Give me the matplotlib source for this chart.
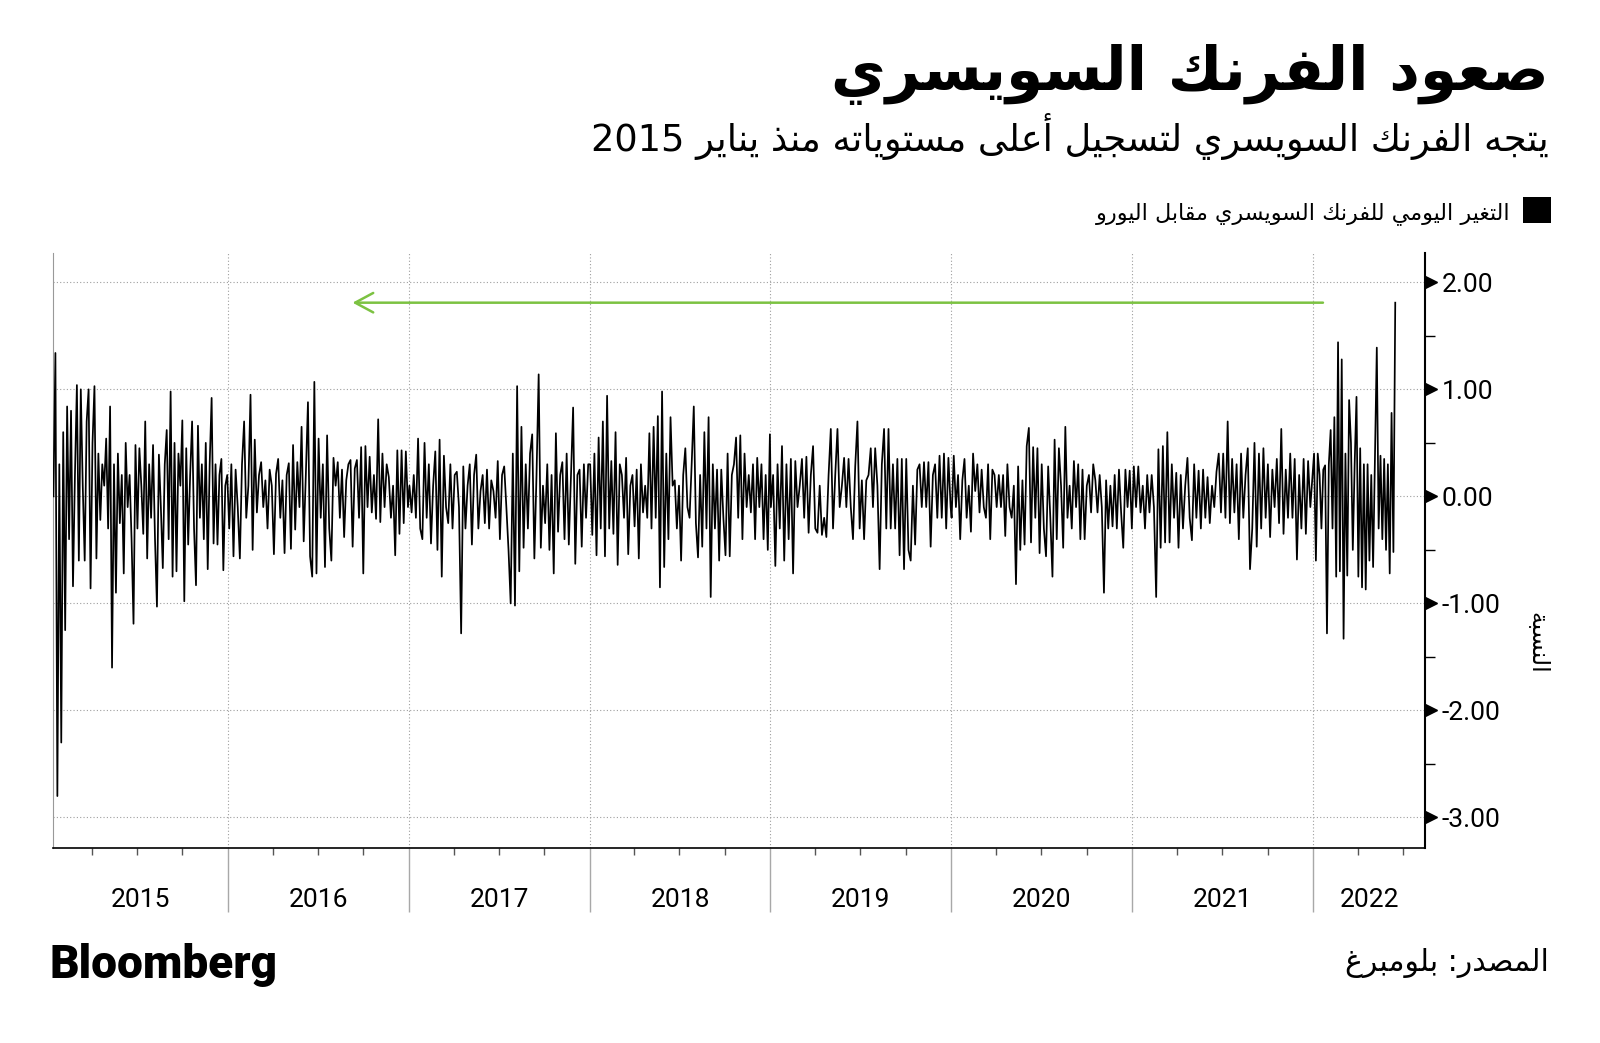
import re
import numpy as np
import pandas as pd
import matplotlib
matplotlib.use('Agg')
import matplotlib.pyplot as plt
import matplotlib.dates as mdates
import matplotlib.transforms as mtransforms
from matplotlib.ticker import MultipleLocator, FuncFormatter
from matplotlib.patches import Rectangle

# daily change of the Swiss franc vs euro (%), thinned out
chf_2015 = [0.0, 1.34, -2.80, 0.30, -2.30, 0.60, -1.25, 0.84, -0.40, 0.80,
            -0.84, 0.20, 1.04, -0.60, 1.00, 0.10, -0.60, 0.70,
            1.00, -0.86, 0.50, 1.03, -0.58, 0.40, -0.22, 0.30,
            0.10, 0.54, -0.30, 0.84, -1.60, 0.30, -0.90, 0.40,
            -0.25, 0.20, -0.72, 0.50, -0.10, 0.20,
            -0.40, -1.19, 0.48, -0.30, 0.45, 0.10, -0.35,
            0.70, -0.58, 0.30, -0.20, 0.48, -0.40,
            -1.03, 0.39, -0.10, -0.67, 0.30, 0.62,
            -0.40, 0.98, -0.75, 0.50, -0.70, 0.40,
            0.10, 0.71, -0.98, 0.45, -0.45, 0.20,
            0.70, -0.30, -0.83, 0.66, -0.20, 0.30,
            -0.40, 0.50, -0.68, 0.30, 0.92, -0.44,
            0.30, -0.45, 0.20, 0.35, -0.69, 0.10, 0.20]
chf_2016 = [-0.30, 0.30, -0.56, 0.25, -0.10, -0.58, 0.30, 0.70, -0.20, 0.10,
            0.95, -0.50, 0.53, -0.15, 0.20, 0.32, -0.10, 0.15, -0.30, 0.25,
            0.10, -0.54, 0.21, 0.35, -0.20, 0.15,
            -0.53, 0.20, 0.31, -0.49, 0.48, -0.31,
            0.32, -0.10, 0.65, -0.42, 0.20, 0.88,
            -0.56, -0.75, 1.07, -0.72, 0.54, -0.20, 0.30,
            -0.66, 0.57, -0.30, -0.60, 0.36, 0.10,
            0.32, -0.20, 0.25, -0.38, 0.15, 0.30,
            0.34, -0.47, 0.26, 0.34, -0.20, 0.46,
            -0.72, 0.47, -0.10, 0.37, -0.15, 0.20,
            -0.21, 0.72, -0.24, 0.40, -0.10, 0.30,
            0.18, -0.20, 0.10, -0.55, 0.43, -0.35, 0.43, -0.25, 0.42, -0.10]
chf_2017 = [0.10, -0.15, 0.20, -0.20, 0.54, -0.30,
            -0.40, 0.50, -0.20, 0.30, -0.44, 0.10,
            0.42, -0.50, 0.53, -0.75, 0.38, -0.10,
            -0.25, 0.30, -0.30, 0.20, 0.23, -0.10,
            -1.28, 0.28, -0.30, 0.10,
            0.30, -0.45, 0.20, 0.39, -0.30, 0.05,
            0.20, -0.25, 0.25, -0.30, 0.15, 0.05,
            -0.20, 0.33, -0.40, 0.20, 0.28, -0.10,
            -0.50, -1.00, 0.40, -1.02, 1.03, -0.70,
            0.65, -0.48, 0.30, -0.30, 0.40,
            0.58, -0.58, 0.20, 1.14, -0.48, 0.10,
            -0.25, 0.30, -0.50, 0.20, -0.72, 0.59,
            -0.33, 0.20, 0.32, -0.40, 0.40, -0.45,
            0.20, 0.83, -0.63, 0.20, 0.25, -0.47, 0.30, -0.20, 0.30]
chf_2018 = [0.30, -0.36, 0.40, -0.55, 0.55, -0.30,
            0.70, -0.56, 0.94, -0.30, 0.33, -0.35,
            0.60, -0.64, 0.30, 0.20, -0.20, 0.36, -0.54,
            0.10, 0.20, -0.28, 0.25, -0.58, 0.30, -0.15, 0.10, -0.20,
            0.59, -0.30, 0.65, -0.20, 0.75, -0.85, 0.98,
            -0.66, 0.40, -0.40, 0.74, 0.10, 0.15,
            -0.30, 0.10, -0.60, 0.20, 0.45, -0.10,
            -0.20, 0.30, 0.84, -0.25, -0.57, 0.20,
            -0.47, 0.60, -0.30, 0.74, -0.94, 0.30,
            -0.30, 0.25, -0.60, 0.25, -0.20, -0.55,
            0.40, -0.56, 0.20, 0.30, 0.55, -0.20, 0.57, -0.40, 0.40, -0.10, 0.20, -0.15,
            0.30, -0.40, 0.36, -0.10, 0.30, -0.40, 0.20, -0.50, 0.58]
chf_2019 = [-0.10, 0.20, -0.65, 0.30, -0.30, 0.47, -0.60, 0.30,
            -0.40, 0.35, -0.72, 0.33, -0.10, 0.10,
            0.35, -0.20, 0.37, -0.34, 0.20, 0.47,
            -0.30, -0.34, 0.10, -0.36, -0.20, -0.38, 0.20,
            0.63, -0.30, 0.20, 0.63, -0.10, 0.10,
            0.36, -0.10, 0.35, -0.10, -0.40, 0.28,
            0.70, -0.30, 0.15, -0.40, 0.15, 0.20,
            0.45, -0.10, 0.45, 0.10, -0.68, 0.30, 0.63,
            -0.30, 0.63, -0.30, 0.30, -0.30, 0.35,
            -0.55, 0.35, -0.68, 0.35, -0.50, -0.60,
            0.10, -0.45, 0.25, 0.30, -0.10, 0.32, -0.10, 0.32, -0.47,
            0.20, 0.30, -0.20, 0.38, -0.20,
            0.40, -0.30, 0.36, -0.10]
chf_2020 = [-0.20, 0.38, -0.10, 0.20, -0.40, 0.15, 0.35, -0.20,
            0.10, -0.33, 0.40, 0.05, 0.30, -0.15, 0.25, -0.10,
            -0.20, 0.30, -0.40, 0.25, 0.20, -0.10,
            0.20, -0.10, 0.20, -0.37, 0.30, -0.10,
            -0.20, 0.10, -0.82, 0.28, -0.50, 0.15,
            -0.45, 0.47, 0.64, -0.43, 0.46, -0.20, 0.45,
            -0.53, 0.30, -0.30, -0.56, 0.28, -0.20, -0.75, 0.53,
            -0.40, 0.45, 0.10, -0.48, 0.65, -0.20,
            0.10, -0.30, 0.33, -0.10, 0.30, -0.40,
            0.25, -0.40, 0.10, 0.20, -0.15, 0.30,
            0.15, -0.15, 0.20, -0.10, -0.90, 0.15,
            -0.30, 0.10, -0.28, 0.20, -0.30, 0.25,
            -0.15, -0.48, 0.25, -0.10, 0.24, -0.30]
chf_2021 = [0.28, -0.10, 0.28, -0.15, 0.10, -0.30,
            0.20, -0.15, 0.20, -0.10, -0.94, 0.44,
            -0.48, 0.47, -0.43, 0.60, -0.43, 0.30,
            -0.20, 0.22, -0.48, 0.20, -0.30, 0.10,
            0.36, -0.20, -0.41, 0.30, -0.20, 0.24,
            -0.30, 0.25, -0.20, 0.18, -0.25, 0.10, -0.10, 0.23, 0.40, -0.15,
            0.40, -0.20, 0.70, -0.25, 0.35, -0.15, 0.30,
            -0.40, 0.40, -0.20, 0.20, 0.45, -0.68,
            -0.30, 0.50, -0.47, 0.40, -0.30,
            0.45, -0.20, 0.30, -0.38, 0.25, -0.10,
            0.35, -0.25, 0.63, -0.35, 0.25, -0.20,
            0.40, -0.20, 0.35, -0.59, 0.20, -0.30,
            0.35, -0.35, 0.33, -0.10, 0.20]
chf_2022 = [0.40, -0.60, 0.40, 0.20, -0.30, 0.25,
            0.29, -1.28, 0.30, 0.62, -0.30,
            0.74, -0.75, 1.44, -0.70, 1.28, -1.33,
            0.40, -0.74, 0.90, 0.50, -0.50, 0.30,
            0.93, -0.75, 0.45, -0.85, 0.30, -0.87,
            0.30, -0.60, 0.20, -0.66, 0.35, 1.39,
            -0.30, 0.38, -0.40, 0.35, -0.50, 0.30, -0.72, 0.78, -0.52, 1.81]

year_vals = [chf_2015, chf_2016, chf_2017, chf_2018, chf_2019, chf_2020, chf_2021, chf_2022]
year_spans = [('2015-01-14', '2015-12-31'), ('2016-01-04', '2016-12-30'),
              ('2017-01-02', '2017-12-29'), ('2018-01-02', '2018-12-31'),
              ('2019-01-02', '2019-12-31'), ('2020-01-02', '2020-12-31'),
              ('2021-01-04', '2021-12-31'), ('2022-01-03', '2022-06-16')]
years = list(range(2015, 2023))
x_start, x_end = '2015-01-13', '2022-08-15'
arrow_from, arrow_to = '2022-01-21', '2016-09-09'

title = 'صعود الفرنك السويسري'
subtitle = 'يتجه الفرنك السويسري لتسجيل أعلى مستوياته منذ يناير 2015'
legend_txt = 'التغير اليومي للفرنك السويسري مقابل اليورو'
ylabel_txt = 'النسبة'
source_txt = 'المصدر: بلومبرغ'

# --- tiny arabic shaper (matplotlib has no text shaping) ---
AR = {'ء': (0xFE80, 1), 'آ': (0xFE81, 2), 'أ': (0xFE83, 2), 'ؤ': (0xFE85, 2), 'إ': (0xFE87, 2),
      'ئ': (0xFE89, 4), 'ا': (0xFE8D, 2), 'ب': (0xFE8F, 4), 'ة': (0xFE93, 2), 'ت': (0xFE95, 4),
      'ث': (0xFE99, 4), 'ج': (0xFE9D, 4), 'ح': (0xFEA1, 4), 'خ': (0xFEA5, 4), 'د': (0xFEA9, 2),
      'ذ': (0xFEAB, 2), 'ر': (0xFEAD, 2), 'ز': (0xFEAF, 2), 'س': (0xFEB1, 4), 'ش': (0xFEB5, 4),
      'ص': (0xFEB9, 4), 'ض': (0xFEBD, 4), 'ط': (0xFEC1, 4), 'ظ': (0xFEC5, 4), 'ع': (0xFEC9, 4),
      'غ': (0xFECD, 4), 'ف': (0xFED1, 4), 'ق': (0xFED5, 4), 'ك': (0xFED9, 4), 'ل': (0xFEDD, 4),
      'م': (0xFEE1, 4), 'ن': (0xFEE5, 4), 'ه': (0xFEE9, 4), 'و': (0xFEED, 2), 'ى': (0xFEEF, 2),
      'ي': (0xFEF1, 4)}
LAM_ALEF = {'آ': 0xFEF5, 'أ': 0xFEF7, 'إ': 0xFEF9, 'ا': 0xFEFB}


def ar(text):
    toks = []
    i = 0
    while i < len(text):
        if text[i] == 'ل' and i + 1 < len(text) and text[i + 1] in LAM_ALEF:
            toks.append((LAM_ALEF[text[i + 1]], 2))
            i += 2
        else:
            toks.append(AR.get(text[i], (text[i], 0)))
            i += 1
    out = []
    for k, (base, nf) in enumerate(toks):
        if nf == 0:
            out.append(base)
            continue
        jp = k > 0 and toks[k - 1][1] == 4 and nf >= 2
        jn = nf == 4 and k + 1 < len(toks) and toks[k + 1][1] >= 2
        idx = 3 if (jp and jn) else 2 if jn else 1 if jp else 0
        out.append(chr(base + idx))
    s = ''.join(out)
    parts = re.findall(r'[0-9]+|[^0-9]+', s)
    return ''.join(p if p.isdigit() else p[::-1] for p in reversed(parts))


dates = pd.DatetimeIndex(np.concatenate(
    [pd.date_range(a, b, periods=len(v)).values for (a, b), v in zip(year_spans, year_vals)]))
vals = np.concatenate([np.asarray(v, dtype=float) for v in year_vals])

num_font = ['Roboto', 'DejaVu Sans']
ar_font = ['DejaVu Sans']

fig = plt.figure(figsize=(16, 10.43), dpi=100)
ax = fig.add_axes([0.0331, 0.1865, 0.8575, 0.5705])
ax.plot(dates, vals, color='black', lw=1.25, zorder=3)

xmin, xmax = pd.Timestamp(x_start), pd.Timestamp(x_end)
ax.set_xlim(xmin, xmax)
ax.set_ylim(-3.29, 2.27)

# y axis on the right
ax.yaxis.tick_right()
ax.yaxis.set_major_locator(MultipleLocator(1))
ax.yaxis.set_minor_locator(MultipleLocator(0.5))
ax.yaxis.set_major_formatter(FuncFormatter(lambda v, p: f'{(0.0 if abs(v) < 1e-9 else v):.2f}'))
ax.tick_params(axis='y', which='major', length=0, pad=12, labelsize=19)
ax.tick_params(axis='y', which='minor', length=7, width=1, color='black')
for lab in ax.get_yticklabels():
    lab.set_family(num_font)
ylo, yhi = ax.get_ylim()
yt = [t for t in ax.get_yticks() if ylo <= t <= yhi]
tri = mtransforms.blended_transform_factory(ax.transAxes, ax.transData) + \
    mtransforms.ScaledTranslation(4.5 / 72, 0, fig.dpi_scale_trans)
ax.plot([1] * len(yt), yt, linestyle='none', marker='>', markersize=9, color='black',
        transform=tri, clip_on=False)

# x axis: years, quarter minor ticks
ax.xaxis.set_major_locator(mdates.YearLocator())
ax.xaxis.set_minor_locator(mdates.MonthLocator(bymonth=[4, 7, 10]))
ax.xaxis.set_major_formatter(plt.NullFormatter())
ax.tick_params(axis='x', which='major', length=46, width=1, color='#a8a8a8')
ax.tick_params(axis='x', which='minor', length=5, width=1, color='#555555')

ax.grid(True, which='major', axis='both', color='#9e9e9e', linestyle=(0, (1, 2)), lw=0.8)
ax.spines['top'].set_visible(False)
ax.spines['left'].set_color('#999999')
ax.spines['right'].set_linewidth(1.5)
ax.spines['bottom'].set_linewidth(1.2)

xt = mtransforms.blended_transform_factory(ax.transData, ax.transAxes)
for yr in years:
    a = max(pd.Timestamp(yr, 1, 1), xmin)
    b = min(pd.Timestamp(yr + 1, 1, 1), xmax)
    ax.text(mdates.date2num(a + (b - a) / 2), -0.087, str(yr), transform=xt,
            ha='center', va='center', fontsize=19, family=num_font)

# green arrow at the latest level
ax.annotate('', xy=(pd.Timestamp(arrow_to), vals[-1]), xytext=(pd.Timestamp(arrow_from), vals[-1]),
            arrowprops=dict(arrowstyle='->,head_length=0.65,head_width=0.35', color='#7cc242',
                            lw=1.8, shrinkA=0, shrinkB=0, mutation_scale=20))

# texts
fig.text(0.968, 0.914, ar(title), ha='right', va='baseline', fontsize=43,
         fontweight='bold', family=ar_font)
fig.text(0.968, 0.855, ar(subtitle), ha='right', va='baseline', fontsize=26.5, family=ar_font)
fig.add_artist(Rectangle((0.952, 0.786), 0.0175, 0.025, transform=fig.transFigure,
                         facecolor='black', edgecolor='none'))
fig.text(0.944, 0.790, ar(legend_txt), ha='right', va='baseline', fontsize=16, family=ar_font)
fig.text(0.961, 0.384, ar(ylabel_txt), rotation=-90, ha='center', va='center',
         fontsize=17, family=ar_font)
fig.text(0.968, 0.069, ar(source_txt), ha='right', va='baseline', fontsize=21.5, family=ar_font)
fig.text(0.031, 0.062, 'Bloomberg', ha='left', va='baseline', fontsize=33,
         fontweight='black', family=['Roboto', 'DejaVu Sans'])

fig.savefig('out.png', dpi=100, facecolor='white')
